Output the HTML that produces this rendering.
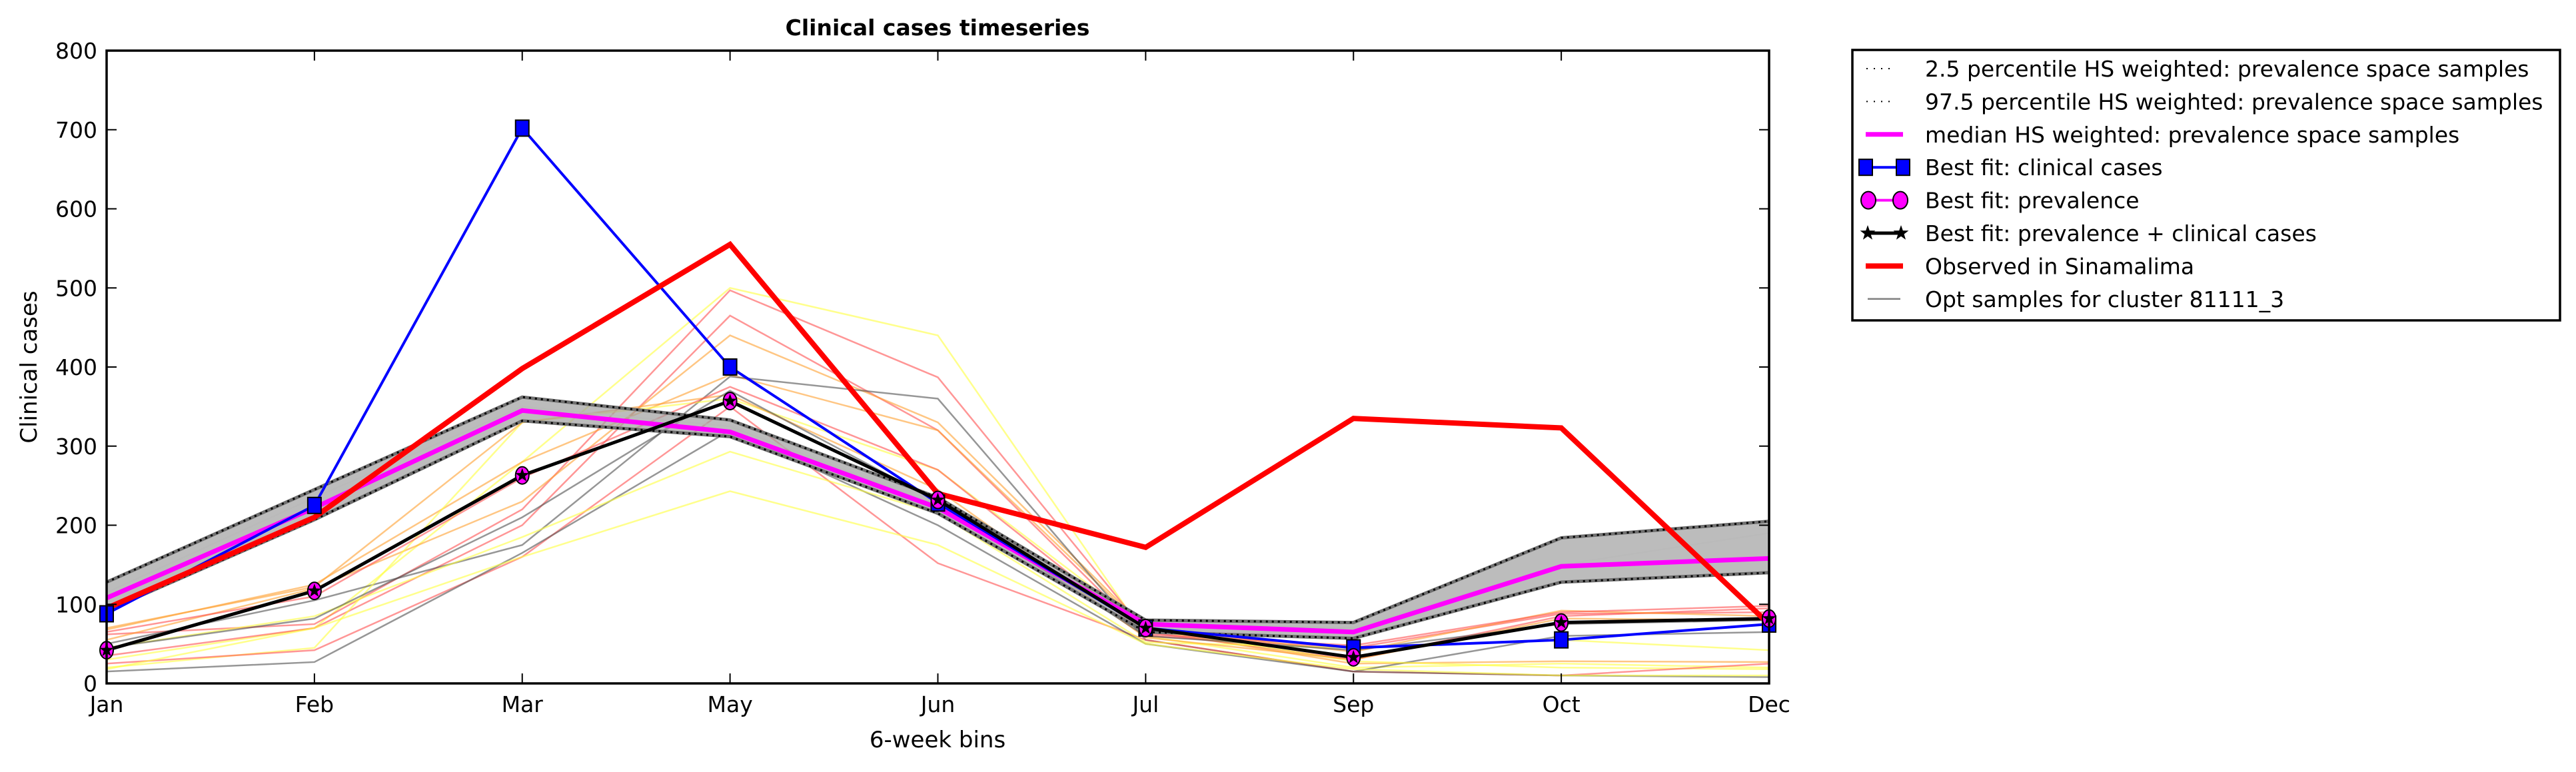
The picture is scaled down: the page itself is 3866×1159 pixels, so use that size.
<!DOCTYPE html>
<html><head><meta charset="utf-8"><style>
html,body{margin:0;padding:0;background:#fff;}
svg{display:block;font-family:"DejaVu Sans","Liberation Sans",sans-serif;}
</style></head><body>
<svg id="chart" width="3866" height="1159" viewBox="0 0 3866 1159" xmlns="http://www.w3.org/2000/svg">
<text x="1407" y="53" font-size="33" font-weight="bold" text-anchor="middle">Clinical cases timeseries</text>
<text x="1407" y="1122" font-size="34" text-anchor="middle">6-week bins</text>
<text x="0" y="0" font-size="34" text-anchor="middle" transform="translate(55,551) rotate(-90)">Clinical cases</text>
<g id="plot"></g>
<g id="legend"></g>
</svg>
<script>
const categories=["Jan","Feb","Mar","May","Jun","Jul","Sep","Oct","Dec"];
const yTicks=[0,100,200,300,400,500,600,700,800];
const observed=[95,210,398,555,240,172,335,323,75];
const bestClinical=[88,225,702,400,228,70,45,55,75];
const bestPrevalence=[42,117,263,357,232,70,33,77,82];
const bestCombined=[42,117,263,357,232,70,33,77,82];
const medianHS=[108,222,345,318,222,75,65,148,158];
const upperHS=[128,245,362,333,235,80,77,184,205];
const lowerHS=[92,207,332,312,215,65,57,128,140];
const sampleColors=["#ffff40","#ff5050","#ff5050","#ffa030","#ffa030","#505050","#ffff40","#ff5050","#505050","#ffff40","#ffff40","#ffa030","#505050","#ff5050","#f4f4f4"];
const s1=[30,70,280,500,440,60,20,25,20];
const s2=[62,75,220,497,387,65,30,85,95];
const s3=[35,70,200,465,320,60,45,88,90];
const s4=[55,120,230,440,330,70,40,92,85];
const s5=[68,125,280,390,320,68,25,28,27];
const s6=[50,105,175,388,360,55,15,60,65];
const s7=[20,45,330,360,270,70,28,20,18];
const s8=[25,42,160,350,152,55,15,10,25];
const s9=[15,27,165,320,200,50,15,10,8];
const s10=[18,70,160,243,175,50,18,10,10];
const s11=[45,85,185,293,215,52,45,55,42];
const s12=[70,122,330,365,245,58,30,82,80];
const s13=[45,82,210,370,230,60,42,75,80];
const s14=[65,110,260,375,270,62,48,90,98];
const s15=[115,235,350,325,225,75,70,150,190];
const samples=[s1,s2,s3,s4,s5,s6,s7,s8,s9,s10,s11,s12,s13,s14,s15];

const NS="http://www.w3.org/2000/svg";
const L=160,R=2655,T=76,B=1026;
const xs=i=>L+i*(R-L)/(categories.length-1);
const ys=v=>B-v*(B-T)/800;
const plot=document.getElementById('plot');
function mk(tag,attrs,parent){const e=document.createElementNS(NS,tag);for(const k in attrs)e.setAttribute(k,attrs[k]);(parent||plot).appendChild(e);return e;}
function pts(arr){return arr.map((v,i)=>xs(i)+','+ys(v)).join(' ');}

const defs=mk('clipPath',{id:'clip'});mk('rect',{x:L,y:T,width:R-L,height:B-T},defs);
const g=mk('g',{'clip-path':'url(#clip)'});

samples.forEach((s,k)=>{
 const l=mk('polyline',{points:pts(s),fill:'none',stroke:sampleColors[k],'stroke-width':2.5,'stroke-opacity':0.6},g);
 
 
});
const bandPts=upperHS.map((v,i)=>xs(i)+','+ys(v)).concat(lowerHS.map((v,i)=>xs(i)+','+ys(v)).reverse()).join(' ');
const band=mk('polygon',{points:bandPts,fill:'#a0a0a0','fill-opacity':0.7,stroke:'none'},g);


[lowerHS,upperHS].forEach((s,k)=>{
 mk('polyline',{points:pts(s),fill:'none',stroke:'#707070','stroke-width':5},g);
 const l=mk('polyline',{points:pts(s),fill:'none',stroke:'#000','stroke-width':3,'stroke-dasharray':'3 6'},g);
 
 
});
const med=mk('polyline',{points:pts(medianHS),fill:'none',stroke:'#ff00ff','stroke-width':7},g);


const bl=mk('polyline',{points:pts(bestClinical),fill:'none',stroke:'#0000ff','stroke-width':4},g);


const pl=mk('polyline',{points:pts(bestPrevalence),fill:'none',stroke:'#ff00ff','stroke-width':4},g);


const cl=mk('polyline',{points:pts(bestCombined),fill:'none',stroke:'#000','stroke-width':5},g);


const ob=mk('polyline',{points:pts(observed),fill:'none',stroke:'#ff0000','stroke-width':8,'stroke-linejoin':'miter'},g);



function star(cx,cy,r){let p=[];for(let i=0;i<10;i++){const a=-Math.PI/2+i*Math.PI/5;const rr=i%2?r*0.4:r;p.push((cx+rr*Math.cos(a))+','+(cy+rr*Math.sin(a)));}return p.join(' ');}
bestClinical.forEach((v,i)=>{
 const m=mk('rect',{x:xs(i)-10,y:ys(v)-12,width:20,height:24,fill:'#0000ff',stroke:'#000','stroke-width':2});
 
 
});
bestPrevalence.forEach((v,i)=>{
 const m=mk('ellipse',{cx:xs(i),cy:ys(v),rx:10,ry:13,fill:'#ff00ff',stroke:'#000','stroke-width':2});
 
 
});
bestCombined.forEach((v,i)=>{
 const m=mk('polygon',{points:star(xs(i),ys(v),11),fill:'#000'});
 
 
});

const frame=mk('rect',{x:L,y:T,width:R-L,height:B-T,fill:'none',stroke:'#000','stroke-width':3.5});


yTicks.forEach(v=>{
 mk('line',{x1:L,x2:L+15,y1:ys(v),y2:ys(v),stroke:'#000','stroke-width':2});
 mk('line',{x1:R-15,x2:R,y1:ys(v),y2:ys(v),stroke:'#000','stroke-width':2});
 const t=mk('text',{x:L-14,y:ys(v)+12,'font-size':33,'text-anchor':'end'});
 t.textContent=v;
 
 
});
categories.forEach((c,i)=>{
 mk('line',{x1:xs(i),x2:xs(i),y1:B,y2:B-15,stroke:'#000','stroke-width':2});
 mk('line',{x1:xs(i),x2:xs(i),y1:T,y2:T+15,stroke:'#000','stroke-width':2});
 const t=mk('text',{x:xs(i),y:1069,'font-size':33,'text-anchor':'middle'});
 t.textContent=c;
 
 
});

const lg=document.getElementById('legend');
mk('rect',{x:2780,y:75,width:1062,height:406,fill:'#fff',stroke:'#000','stroke-width':3.5},lg);
const labels=["2.5 percentile HS weighted: prevalence space samples","97.5 percentile HS weighted: prevalence space samples","median HS weighted: prevalence space samples","Best fit: clinical cases","Best fit: prevalence","Best fit: prevalence + clinical cases","Observed in Sinamalima","Opt samples for cluster 81111_3"];
labels.forEach((lab,k)=>{
 const y=103+k*49.4;
 const hx1=2800,hx2=2856;
 if(k<2) mk('line',{x1:2801,x2:2844,y1:y,y2:y,stroke:'#000','stroke-width':2,'stroke-dasharray':'2 9'},lg);
 if(k==2) mk('line',{x1:hx1,x2:hx2,y1:y,y2:y,stroke:'#ff00ff','stroke-width':7},lg);
 if(k==3){mk('line',{x1:hx1,x2:hx2,y1:y,y2:y,stroke:'#0000ff','stroke-width':4},lg);
  [hx1,hx2].forEach(x=>mk('rect',{x:x-10,y:y-12,width:20,height:24,fill:'#0000ff',stroke:'#000','stroke-width':2},lg));}
 if(k==4){mk('line',{x1:hx1,x2:hx2,y1:y,y2:y,stroke:'#ff00ff','stroke-width':4},lg);
  [hx1+4,hx2-4].forEach(x=>mk('ellipse',{cx:x,cy:y,rx:11,ry:13,fill:'#ff00ff',stroke:'#000','stroke-width':2},lg));}
 if(k==5){mk('line',{x1:hx1,x2:hx2,y1:y,y2:y,stroke:'#000','stroke-width':5},lg);
  [hx1+3,hx2-3].forEach(x=>mk('polygon',{points:star(x,y,12),fill:'#000'},lg));}
 if(k==6) mk('line',{x1:hx1,x2:hx2,y1:y,y2:y,stroke:'#ff0000','stroke-width':8},lg);
 if(k==7) mk('line',{x1:hx1+3,x2:hx2-4,y1:y,y2:y,stroke:'#808080','stroke-width':2.5},lg);
 const t=mk('text',{x:2889,y:y+12,'font-size':33},lg);
 t.textContent=lab;
 
 
});
</script>
</body></html>
